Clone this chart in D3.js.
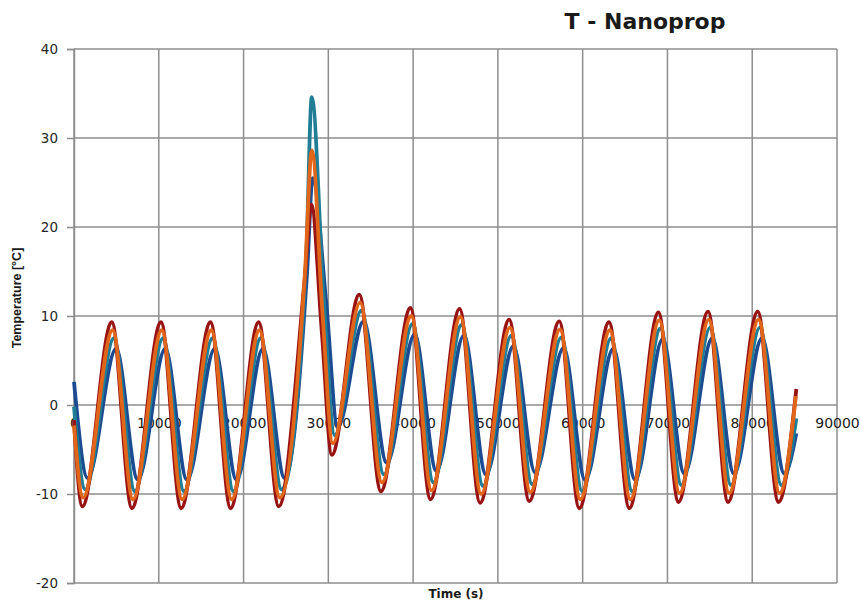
<!DOCTYPE html>
<html>
<head>
<meta charset="utf-8">
<script src="https://cdn.jsdelivr.net/npm/d3@7/dist/d3.min.js"></script>
<style>
  body { margin: 0; background: #fff; }
  svg { display: block; }
</style>
</head>
<body>
<svg id="chart" width="860" height="600"></svg>
<script>
// [time (s), temperature (°C)] at each peak / trough (plus the spike shoulders)
const redSeries = [[0,-1.7],[980,-11.4],[4460,9.3],[6830,-11.6],[10260,9.3],[12630,-11.6],[16100,9.3],[18470,-11.6],[21780,9.3],[24150,-11.4],[27200,14.0],[28000,22.5],[29250,8.0],[30410,-5.6],[33650,12.4],[36200,-9.7],[39680,10.9],[42050,-10.6],[45480,10.8],[47900,-11.0],[51330,9.6],[53700,-10.8],[57240,9.4],[59600,-11.6],[63110,9.3],[65500,-11.6],[68940,10.4],[71300,-10.9],[74790,10.5],[77150,-10.9],[80650,10.5],[83100,-10.9],[85200,1.8]];
const orangeSeries = [[0,-2.3],[1080,-10.4],[4560,8.4],[6960,-10.6],[10360,8.4],[12760,-10.6],[16200,8.4],[18600,-10.6],[21880,8.4],[24280,-10.4],[27250,15.0],[28060,28.6],[29300,10.5],[30530,-4.3],[33750,11.5],[36330,-8.7],[39780,10.0],[42180,-9.6],[45580,9.9],[48030,-10.0],[51430,8.7],[53830,-9.8],[57340,8.5],[59730,-10.6],[63210,8.4],[65630,-10.6],[69040,9.5],[71430,-9.9],[74890,9.6],[77280,-9.9],[80750,9.6],[83230,-9.9],[85150,1.0]];
const tealSeries = [[0,-0.2],[1330,-9.5],[4710,7.5],[7180,-9.7],[10510,7.5],[12980,-9.7],[16350,7.5],[18820,-9.7],[22030,7.5],[24500,-9.5],[27350,15.5],[28050,34.6],[29450,12.0],[30760,-3.4],[33900,10.6],[36550,-7.8],[39930,9.1],[42400,-8.7],[45730,9.0],[48250,-9.1],[51580,7.8],[54050,-8.9],[57490,7.6],[59950,-9.7],[63360,7.5],[65850,-9.7],[69190,8.6],[71650,-9.0],[75040,8.7],[77500,-9.0],[80900,8.7],[83450,-9.0],[85200,-1.5]];
const blueSeries = [[0,2.6],[1600,-8.2],[4960,6.3],[7530,-8.4],[10760,6.3],[13330,-8.4],[16600,6.3],[19170,-8.4],[22280,6.3],[24850,-8.2],[27500,15.0],[28150,25.5],[29750,11.5],[31100,-2.5],[34150,9.4],[36900,-6.5],[40180,7.9],[42750,-7.4],[45980,7.8],[48600,-7.8],[51830,6.6],[54400,-7.6],[57740,6.4],[60300,-8.4],[63610,6.3],[66200,-8.4],[69440,7.4],[72000,-7.7],[75290,7.5],[77850,-7.7],[81150,7.5],[83800,-7.7],[85200,-3.2]];

const xTicks = [0, 10000, 20000, 30000, 40000, 50000, 60000, 70000, 80000, 90000];
const yTicks = [-20, -10, 0, 10, 20, 30, 40];

// draw order: blue under, orange on top
const series = [
  { data: blueSeries, color: '#1c4b92' },
  { data: tealSeries, color: '#1f7e96' },
  { data: redSeries, color: '#981414' },
  { data: orangeSeries, color: '#e2661a' }
];

const svg = d3.select('#chart');
const x = d3.scaleLinear().domain([0, 90000]).range([74, 837]);
const y = d3.scaleLinear().domain([-20, 40]).range([583, 49]);
const gridColor = '#8e8e8e';

// gridlines
svg.append('g').selectAll('line').data(yTicks).enter().append('line')
  .attr('x1', x(0)).attr('x2', x(90000))
  .attr('y1', (d) => y(d)).attr('y2', (d) => y(d))
  .attr('stroke', gridColor).attr('stroke-width', 1.5);

svg.append('g').selectAll('line').data(xTicks).enter().append('line')
  .attr('x1', (d) => x(d)).attr('x2', (d) => x(d))
  .attr('y1', y(40)).attr('y2', y(-20))
  .attr('stroke', gridColor).attr('stroke-width', 1.5);

// y axis with outward ticks
const yAxis = svg.append('g')
  .attr('transform', `translate(${x(0)},0)`)
  .call(d3.axisLeft(y).tickValues(yTicks).tickSize(7).tickPadding(9).tickFormat((d) => String(d)));
yAxis.select('.domain').attr('stroke', gridColor).attr('stroke-width', 1.5);
yAxis.selectAll('.tick line').attr('stroke', gridColor).attr('stroke-width', 1.5);
yAxis.selectAll('text')
  .attr('font-family', 'DejaVu Sans, sans-serif')
  .attr('font-size', 13.5)
  .attr('fill', '#262626');

// x tick labels sit under the zero line
const xAxis = svg.append('g')
  .attr('transform', `translate(0,${y(0)})`)
  .call(d3.axisBottom(x).tickValues(xTicks).tickSize(0).tickPadding(13).tickFormat((d) => String(d)));
xAxis.select('.domain').remove();
xAxis.selectAll('text')
  .attr('font-family', 'DejaVu Sans, sans-serif')
  .attr('font-size', 14)
  .attr('fill', '#1a1a1a');

// series
const line = d3.line()
  .x((d) => x(d[0]))
  .y((d) => y(d[1]))
  .curve(d3.curveMonotoneX);

svg.append('g').selectAll('path').data(series).enter().append('path')
  .attr('d', (s) => line(s.data))
  .attr('fill', 'none')
  .attr('stroke', (s) => s.color)
  .attr('stroke-width', 3.8)
  .attr('stroke-linejoin', 'round');

// titles
svg.append('text')
  .attr('x', 645).attr('y', 29)
  .attr('text-anchor', 'middle')
  .attr('font-family', 'DejaVu Sans, sans-serif')
  .attr('font-weight', 'bold')
  .attr('font-size', 22)
  .attr('fill', '#1a1a1a')
  .text('T - Nanoprop');

svg.append('text')
  .attr('x', 456).attr('y', 598)
  .attr('text-anchor', 'middle')
  .attr('font-family', 'DejaVu Sans, sans-serif')
  .attr('font-weight', 'bold')
  .attr('font-size', 12)
  .attr('fill', '#1a1a1a')
  .text('Time (s)');

svg.append('text')
  .attr('transform', 'translate(21,298) rotate(-90)')
  .attr('text-anchor', 'middle')
  .attr('font-family', 'Liberation Sans Narrow, Liberation Sans, sans-serif')
  .attr('font-weight', 'bold')
  .attr('font-size', 12.5)
  .attr('fill', '#1a1a1a')
  .text('Temperature [°C]');
</script>
</body>
</html>
